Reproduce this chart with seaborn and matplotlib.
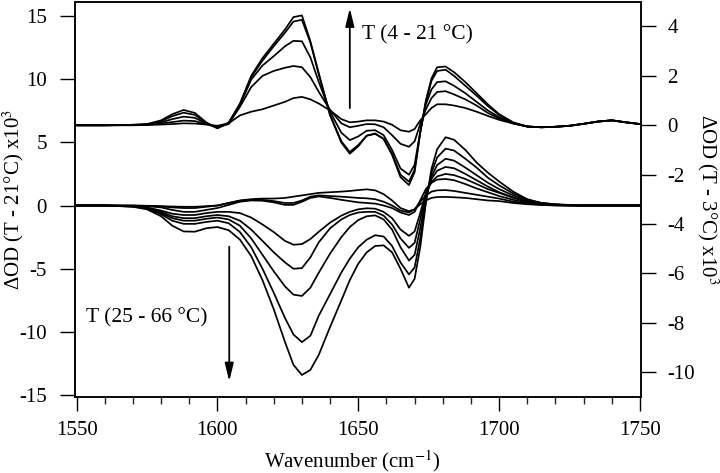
import pandas as pd
import matplotlib
matplotlib.use("Agg")
import matplotlib.pyplot as plt
from matplotlib.ticker import MultipleLocator
import seaborn as sns

# eixo x comum a todas as curvas (cm-1)
wavenumber = [1550, 1560, 1570, 1575, 1580, 1584, 1588, 1592, 1596, 1600,
              1604, 1608, 1612, 1616, 1620, 1624, 1627, 1630, 1633, 1636,
              1640, 1644, 1647, 1650, 1653, 1656, 1659, 1662, 1665, 1668,
              1670, 1672, 1674, 1676, 1678, 1681, 1684, 1688, 1692, 1696,
              1700, 1705, 1710, 1715, 1720, 1725, 1730, 1735, 1740, 1745, 1750]

# grupo de cima: T - 3 °C (eixo direito)
u1 = [0.0, 0.0, 0.0, 0.01, 0.03, 0.05, 0.08, 0.07, 0.03, -0.02,
      0.08, 0.4, 0.55, 0.65, 0.8, 0.95, 1.1, 1.15, 1.05, 0.88,
      0.6, 0.25, 0.12, 0.15, 0.2, 0.2, 0.15, 0.02, -0.2, -0.26,
      -0.15, 0.2, 0.45, 0.7, 0.85, 0.85, 0.8, 0.7, 0.55, 0.38,
      0.22, 0.07, -0.05, -0.08, -0.06, -0.02, 0.06, 0.15, 0.2, 0.12, 0.05]
u2 = [0.0, 0.0, 0.01, 0.02, 0.07, 0.13, 0.19, 0.17, 0.05, -0.08,
      0.05, 0.75, 1.55, 2.0, 2.2, 2.33, 2.4, 2.35, 1.95, 1.35,
      0.62, 0.08, -0.08, -0.02, 0.05, 0.04, -0.08, -0.4, -0.75, -0.87,
      -0.65, 0.05, 0.65, 1.1, 1.35, 1.38, 1.25, 1.05, 0.8, 0.5,
      0.28, 0.08, -0.05, -0.08, -0.06, -0.02, 0.06, 0.15, 0.2, 0.12, 0.05]
u3 = [0.0, 0.0, 0.01, 0.03, 0.12, 0.25, 0.35, 0.3, 0.08, -0.1,
      0.1, 0.82, 1.85, 2.42, 2.8, 3.2, 3.42, 3.4, 2.75, 1.75,
      0.55, -0.3, -0.6, -0.45, -0.22, -0.2, -0.4, -1.0, -1.75, -2.0,
      -1.6, -0.25, 0.85, 1.45, 1.75, 1.78, 1.6, 1.3, 0.95, 0.6,
      0.33, 0.08, -0.05, -0.08, -0.06, -0.02, 0.06, 0.15, 0.2, 0.12, 0.05]
u4 = [0.0, 0.0, 0.02, 0.04, 0.17, 0.37, 0.51, 0.42, 0.1, -0.12,
      0.1, 0.85, 1.95, 2.62, 3.2, 3.75, 4.2, 4.27, 3.35, 2.05,
      0.42, -0.65, -1.08, -0.8, -0.42, -0.35, -0.55, -1.15, -2.0, -2.28,
      -1.8, -0.3, 0.95, 1.8, 2.2, 2.25, 2.0, 1.6, 1.2, 0.78,
      0.42, 0.1, -0.05, -0.08, -0.06, -0.02, 0.06, 0.15, 0.2, 0.12, 0.05]
u5 = [0.0, 0.0, 0.02, 0.05, 0.2, 0.45, 0.62, 0.5, 0.12, -0.12,
      0.1, 0.88, 2.0, 2.72, 3.3, 3.88, 4.38, 4.45, 3.4, 2.1,
      0.4, -0.7, -1.15, -0.85, -0.42, -0.33, -0.55, -1.2, -2.1, -2.42,
      -1.9, -0.3, 1.0, 1.9, 2.35, 2.38, 2.15, 1.75, 1.3, 0.85,
      0.45, 0.12, -0.05, -0.08, -0.06, -0.02, 0.06, 0.15, 0.2, 0.12, 0.05]

# grupo de baixo: T - 21 °C (eixo esquerdo)
l1 = [0.0, 0.0, 0.0, -0.02, -0.05, -0.08, -0.1, -0.1, -0.05, 0.0,
      0.2, 0.4, 0.5, 0.55, 0.55, 0.6, 0.7, 0.8, 0.9, 1.0,
      1.05, 1.1, 1.15, 1.22, 1.28, 1.2, 0.9, 0.4, -0.2, -0.45,
      -0.3, 0.1, 0.4, 0.6, 0.67, 0.68, 0.65, 0.6, 0.5, 0.4,
      0.35, 0.2, 0.1, 0.05, 0.0, 0.0, 0.0, 0.0, 0.0, 0.0, 0.0]
l2 = [0.0, 0.0, -0.01, -0.03, -0.08, -0.15, -0.2, -0.2, -0.1, 0.0,
      0.2, 0.38, 0.45, 0.45, 0.35, 0.2, 0.2, 0.4, 0.7, 0.8,
      0.75, 0.7, 0.65, 0.6, 0.57, 0.5, 0.3, 0.0, -0.4, -0.55,
      -0.3, 0.3, 0.8, 1.1, 1.2, 1.22, 1.15, 1.0, 0.85, 0.7,
      0.55, 0.3, 0.15, 0.05, 0.02, 0.0, 0.0, 0.0, 0.0, 0.0, 0.0]
l3 = [0.0, 0.0, -0.02, -0.05, -0.15, -0.35, -0.5, -0.5, -0.35, -0.2,
      0.05, 0.3, 0.4, 0.38, 0.25, 0.05, 0.05, 0.3, 0.6, 0.72,
      0.6, 0.45, 0.35, 0.25, 0.2, 0.15, 0.0, -0.2, -0.55, -0.75,
      -0.5, 0.4, 1.3, 1.8, 2.05, 2.1, 2.0, 1.7, 1.35, 1.05,
      0.75, 0.45, 0.2, 0.08, 0.03, 0.0, 0.0, 0.0, 0.0, 0.0, 0.0]
l4 = [0.0, 0.0, -0.05, -0.15, -0.4, -0.65, -0.75, -0.75, -0.6, -0.5,
      -0.5, -0.6, -0.95, -1.5, -2.1, -2.8, -3.1, -3.05, -2.65, -2.07,
      -1.35, -0.8, -0.5, -0.3, -0.22, -0.25, -0.5, -1.0, -1.9, -2.4,
      -2.05, -0.6, 1.0, 1.85, 2.3, 2.5, 2.4, 2.1, 1.7, 1.3,
      1.0, 0.6, 0.3, 0.15, 0.05, 0.02, 0.0, 0.0, 0.0, 0.0, 0.0]
l5 = [0.0, 0.0, -0.05, -0.2, -0.5, -0.85, -1.0, -1.0, -0.85, -0.75,
      -0.85, -1.2, -1.9, -2.8, -3.7, -4.5, -5.0, -4.95, -4.1, -2.9,
      -1.8, -1.1, -0.75, -0.55, -0.5, -0.5, -0.8, -1.5, -2.6, -3.35,
      -2.95, -1.1, 0.9, 2.1, 2.75, 3.05, 2.95, 2.5, 2.0, 1.5,
      1.05, 0.65, 0.3, 0.15, 0.05, 0.02, 0.0, 0.0, 0.0, 0.0, 0.0]
l6 = [0.0, 0.0, -0.07, -0.22, -0.6, -1.0, -1.2, -1.2, -1.05, -0.95,
      -1.1, -1.6, -2.6, -3.9, -5.2, -6.4, -7.05, -7.15, -6.5, -5.3,
      -3.8, -2.5, -1.7, -1.15, -0.85, -0.78, -1.1, -1.9, -3.3, -4.35,
      -3.9, -1.8, 0.6, 2.3, 3.2, 3.7, 3.55, 3.0, 2.4, 1.8,
      1.3, 0.8, 0.4, 0.2, 0.08, 0.03, 0.0, 0.0, 0.0, 0.0, 0.0]
l7 = [0.0, 0.0, -0.08, -0.25, -0.7, -1.2, -1.45, -1.45, -1.3, -1.2,
      -1.4, -2.1, -3.3, -5.0, -6.9, -8.9, -10.2, -10.8, -10.3, -8.7,
      -7.0, -5.3, -4.2, -3.3, -2.7, -2.35, -2.45, -3.2, -4.5, -5.45,
      -4.9, -2.6, 0.3, 2.6, 3.8, 4.5, 4.35, 3.7, 3.0, 2.2,
      1.6, 0.95, 0.45, 0.2, 0.08, 0.03, 0.0, 0.0, 0.0, 0.0, 0.0]
l8 = [0.0, 0.0, -0.1, -0.3, -0.85, -1.6, -2.05, -2.07, -1.8, -1.7,
      -1.95, -2.7, -4.0, -5.9, -8.2, -10.8, -12.6, -13.4, -13.0, -11.8,
      -9.6, -7.5, -5.9, -4.6, -3.7, -3.2, -3.15, -3.7, -5.0, -6.5,
      -5.8, -3.3, 0.2, 2.9, 4.45, 5.4, 5.2, 4.4, 3.4, 2.6,
      1.9, 1.1, 0.5, 0.2, 0.1, 0.05, 0.0, 0.0, 0.0, 0.0, 0.0]

# monta tabelas longas para o seaborn
df_cima = pd.DataFrame({'wavenumber': wavenumber, 'u1': u1, 'u2': u2, 'u3': u3, 'u4': u4, 'u5': u5})
df_cima = df_cima.melt(id_vars='wavenumber', var_name='curva', value_name='dod')
df_baixo = pd.DataFrame({'wavenumber': wavenumber, 'l1': l1, 'l2': l2, 'l3': l3, 'l4': l4,
                         'l5': l5, 'l6': l6, 'l7': l7, 'l8': l8})
df_baixo = df_baixo.melt(id_vars='wavenumber', var_name='curva', value_name='dod')

sns.set_theme(style="ticks")
plt.rcParams['font.family'] = ['Liberation Serif', 'DejaVu Serif']
plt.rcParams['mathtext.fontset'] = 'stix'
plt.rcParams['axes.unicode_minus'] = False
plt.rcParams['text.color'] = 'black'

fig = plt.figure(figsize=(7.2, 4.73), dpi=100)
ax = fig.add_axes([0.104, 0.1607, 0.786, 0.835])
ax2 = ax.twinx()

sns.lineplot(data=df_baixo, x='wavenumber', y='dod', units='curva', estimator=None,
             color='black', linewidth=1.25, legend=False, ax=ax)
sns.lineplot(data=df_cima, x='wavenumber', y='dod', units='curva', estimator=None,
             color='black', linewidth=1.25, legend=False, ax=ax2)

ax.set_xlim(1549.4, 1750.3)
ax.set_ylim(-15.14, 16.09)
ax2.set_ylim(-11.0, 4.99)

ax.set_xticks([1550, 1600, 1650, 1700, 1750])
ax.xaxis.set_minor_locator(MultipleLocator(10))
ax.set_yticks([-15, -10, -5, 0, 5, 10, 15])
ax2.set_yticks([-10, -8, -6, -4, -2, 0, 2, 4])

ax.tick_params(axis='x', which='major', direction='out', length=10, width=1, pad=7,
               labelsize=15, colors='black')
ax.tick_params(axis='x', which='minor', direction='out', length=5, width=1)
ax.tick_params(axis='y', which='major', direction='out', length=11, width=1, pad=9,
               labelsize=15, colors='black')
ax2.tick_params(axis='y', which='major', direction='out', length=11, width=1, pad=8,
                labelsize=15, colors='black')

for a in (ax, ax2):
    for s in a.spines.values():
        s.set_linewidth(1.1)
        s.set_color('black')

ax.set_xlabel("Wavenumber (cm$^{-1}$)", fontsize=15, color='black')
ax.xaxis.set_label_coords(0.49, -0.163)
ax.xaxis.label.set_va('center')
ax.set_ylabel("ΔOD (T - 21°C) x10$^{3}$", fontsize=15, color='black')
ax.yaxis.set_label_coords(-0.108, 0.5)
ax.yaxis.label.set_va('center')
ax2.set_ylabel("ΔOD (T - 3°C) x10$^{3}$", fontsize=15, color='black', rotation=270)
ax2.yaxis.set_label_coords(1.118, 0.5)
ax2.yaxis.label.set_va('center')

# setas e textos de temperatura
seta = dict(arrowstyle='-|>,head_width=0.22,head_length=0.9', color='black', lw=1.3,
            shrinkA=0, shrinkB=0)
ax.annotate('', xy=(1647.0, 15.6), xytext=(1647.0, 7.7), arrowprops=seta)
ax.text(1651.2, 13.5, "T (4 - 21 °C)", fontsize=15.5, ha='left', va='center', color='black')
ax.annotate('', xy=(1604.2, -13.9), xytext=(1604.2, -3.26), arrowprops=seta)
ax.text(1553.5, -8.9, "T (25 - 66 °C)", fontsize=15.5, ha='left', va='center', color='black')

fig.savefig("out.png", dpi=100, facecolor='white')
